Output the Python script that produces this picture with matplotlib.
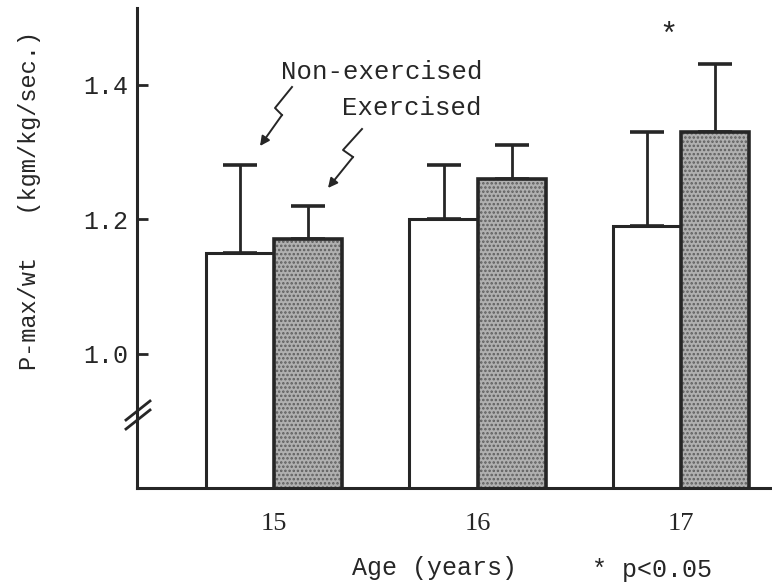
import matplotlib
matplotlib.use("Agg")
import matplotlib.pyplot as plt
from matplotlib.lines import Line2D

# Data
ages = [15, 16, 17]
non_exercised = [1.15, 1.20, 1.19]
non_exercised_sd = [0.13, 0.08, 0.14]
exercised = [1.17, 1.26, 1.33]
exercised_sd = [0.05, 0.05, 0.10]
y_ticks = [1.0, 1.2, 1.4]

W, H = 772, 587
ink = "#262626"
font = "Liberation Mono"
plt.rcParams["font.family"] = [font, "DejaVu Sans Mono"]
plt.rcParams["hatch.linewidth"] = 1.2


def fx(px):
    return px / W


def fy(py):
    return 1 - py / H


fig = plt.figure(figsize=(7.72, 5.87), dpi=100)
ax = fig.add_axes([fx(137), fy(488), 1 - fx(137), fy(8) - fy(488)])

width = 0.335
x_non = [a - width / 2 for a in ages]
x_ex = [a + width / 2 for a in ages]

# white bars
ax.bar(x_non, non_exercised, width, color="white", edgecolor=ink, linewidth=2.2, zorder=2)
# stippled bars: fill + hatch, then outline on top
ax.bar(x_ex, exercised, width, color="#b0b0b0", edgecolor="#5e5e5e", hatch="....",
       linewidth=0, zorder=2)
ax.bar(x_ex, exercised, width, fill=False, edgecolor=ink, linewidth=2.6, zorder=3)

# upper error bars only
ax.errorbar(x_non, non_exercised, yerr=[[0] * 3, non_exercised_sd], fmt="none",
            ecolor=ink, elinewidth=2, capsize=12.5, capthick=2.6, zorder=1)
ax.errorbar(x_ex, exercised, yerr=[[0] * 3, exercised_sd], fmt="none",
            ecolor=ink, elinewidth=2, capsize=12.5, capthick=2.6, zorder=1)

ax.set_xlim(15 - 0.675, 17 + 0.448)
ax.set_ylim(0.80, 1.514)
ax.set_yticks(y_ticks)
ax.set_yticklabels(["%.1f" % v for v in y_ticks], fontsize=18, color=ink)
ax.set_xticks(ages)
ax.set_xticklabels([str(a) for a in ages], fontsize=19, color=ink, family="Liberation Serif")
ax.tick_params(axis="y", direction="in", length=8, width=2, color=ink, pad=6)
ax.tick_params(axis="x", length=0, pad=18)

for side in ["top", "right"]:
    ax.spines[side].set_visible(False)
for side in ["left", "bottom"]:
    ax.spines[side].set_linewidth(2.2)
    ax.spines[side].set_color(ink)

# significance star
ax.text(17 - 0.06, 1.472, "*", ha="center", va="center", fontsize=22, color=ink)

# axis break marks
for dy in (0, 9):
    fig.add_artist(Line2D([fx(126), fx(150)], [fy(420 + dy), fy(401 + dy)],
                          color=ink, linewidth=2))

# labels
fig.text(fx(30), fy(200), "P-max/wt   (kgm/kg/sec.)", rotation=90, ha="center",
         va="center", fontsize=17, color=ink)
fig.text(fx(435), fy(568), "Age (years)", ha="center", va="center", fontsize=18, color=ink)
fig.text(fx(652), fy(570), "* p<0.05", ha="center", va="center", fontsize=18, color=ink)

# legend text with zigzag arrows
fig.text(fx(382), fy(72), "Non-exercised", ha="center", va="center", fontsize=18.5, color=ink)
fig.text(fx(412), fy(108), "Exercised", ha="center", va="center", fontsize=18.5, color=ink)

zig_non = [(292, 87), (275, 108), (282, 115)]
zig_ex = [(362, 129), (343, 150), (353, 157)]
for pts, tip in [(zig_non, (260, 146)), (zig_ex, (328, 188))]:
    fig.add_artist(Line2D([fx(p[0]) for p in pts], [fy(p[1]) for p in pts],
                          color=ink, linewidth=1.4))
    last = pts[-1]
    ax.annotate("", xy=(fx(tip[0]), fy(tip[1])), xycoords="figure fraction",
                xytext=(fx(last[0]), fy(last[1])), textcoords="figure fraction",
                arrowprops=dict(arrowstyle="-|>", color=ink, lw=1.4,
                                mutation_scale=14, shrinkA=0, shrinkB=0))

fig.savefig("out.png", dpi=100)
